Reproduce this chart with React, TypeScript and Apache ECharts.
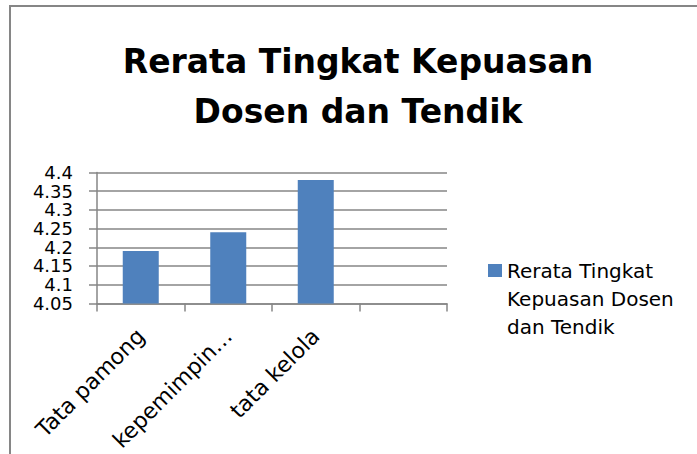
import React, { useEffect, useRef } from "react";
import * as echarts from "echarts";

const titleText = "Rerata Tingkat Kepuasan\nDosen dan Tendik";
const seriesName = "Rerata Tingkat Kepuasan Dosen dan Tendik";
const legendLines = ["Rerata Tingkat", "Kepuasan Dosen", "dan Tendik"];
const categories = ["Tata pamong", "kepemimpin…", "tata kelola", ""];
const values = [4.19, 4.24, 4.38];
const yMin = 4.05;
const yMax = 4.4;
const yStep = 0.05;

const FONT = "'DejaVu Sans', sans-serif";
const GRAY = "#868686";

export default function App() {
  const ref = useRef<HTMLDivElement>(null);
  useEffect(() => {
    if (!ref.current) return;
    const chart = echarts.init(ref.current, undefined, { renderer: "svg" });
    chart.setOption({
      animation: false,
      backgroundColor: "#ffffff",
      textStyle: { fontFamily: FONT },
      title: {
        text: titleText,
        left: 358,
        textAlign: "center",
        top: 36,
        padding: 0,
        textStyle: {
          fontFamily: FONT,
          fontSize: 33,
          fontWeight: "bold",
          color: "#000000",
          lineHeight: 50,
        },
      },
      graphic: [
        {
          type: "rect",
          shape: { x: 10, y: 6, width: 720, height: 480 },
          style: { fill: "none", stroke: GRAY, lineWidth: 2 },
          silent: true,
          z: 100,
        },
      ],
      legend: {
        left: 488,
        top: 256.5,
        padding: 0,
        itemWidth: 14,
        itemHeight: 69,
        icon: "path://M0 0H14V13H0Z M0 69H14",
        data: [seriesName],
        formatter: () => legendLines.join("\n"),
        textStyle: {
          fontFamily: FONT,
          fontSize: 20,
          lineHeight: 28,
          color: "#000000",
        },
      },
      grid: {
        left: 97,
        top: 172.5,
        width: 350,
        height: 131,
        containLabel: false,
      },
      xAxis: {
        type: "category",
        data: categories,
        boundaryGap: true,
        axisLine: { show: true, lineStyle: { color: GRAY, width: 1.5 } },
        axisTick: {
          show: true,
          interval: 0,
          length: 8,
          alignWithLabel: false,
          lineStyle: { color: GRAY, width: 1.5 },
        },
        axisLabel: {
          interval: 0,
          rotate: 45,
          margin: 29,
          fontFamily: FONT,
          fontSize: 22,
          color: "#000000",
        },
        splitLine: { show: false },
      },
      yAxis: {
        type: "value",
        min: yMin,
        max: yMax,
        interval: yStep,
        axisLine: { show: true, lineStyle: { color: GRAY, width: 1.5 } },
        axisTick: { show: true, length: 8, lineStyle: { color: GRAY, width: 1.5 } },
        axisLabel: {
          margin: 24,
          fontFamily: FONT,
          fontSize: 18,
          color: "#000000",
          showMinLabel: true,
          showMaxLabel: true,
          hideOverlap: false,
          formatter: (v: number) => String(Math.round(v * 100) / 100),
        },
        splitLine: { show: true, lineStyle: { color: GRAY, width: 1.5 } },
      },
      series: [
        {
          name: seriesName,
          type: "bar",
          data: values,
          barWidth: 36,
          itemStyle: { color: "#4F81BD" },
        },
      ],
    });
    return () => chart.dispose();
  }, []);
  return (
    <div
      ref={ref}
      style={{ position: "fixed", left: 0, top: 0, width: 697, height: 454 }}
    />
  );
}
